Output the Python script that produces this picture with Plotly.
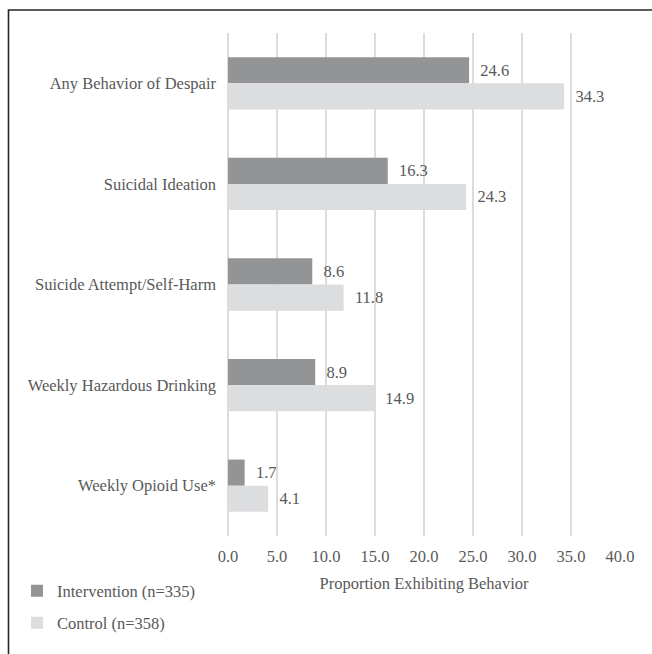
import plotly.graph_objects as go

categories = ["Any Behavior of Despair", "Suicidal Ideation", "Suicide Attempt/Self-Harm",
              "Weekly Hazardous Drinking", "Weekly Opioid Use*"]
intervention = [24.6, 16.3, 8.6, 8.9, 1.7]
control = [34.3, 24.3, 11.8, 14.9, 4.1]
series_names = ["Intervention (n=335)", "Control (n=358)"]
x_ticks = [0, 5, 10, 15, 20, 25, 30, 35, 40]

FONT = "Liberation Serif, Times New Roman, serif"
TXT = "#595959"
FS = 16.5

W, H = 652, 654
L, R, T, B = 228, 32, 33, 118
pw, ph = W - L - R, H - T - B

def px_x(p):
    return (p - L) / pw

def px_y(p):
    return (H - B - p) / ph

fig = go.Figure()
for name, vals, col, grp in [(series_names[0], intervention, "#939496", "a"),
                             (series_names[1], control, "#dcdddf", "b")]:
    fig.add_trace(go.Bar(
        y=categories, x=vals, orientation="h", name=name, legendgroup=grp,
        marker=dict(color=col, line=dict(width=0)),
        texttemplate="\u00a0\u00a0%{x:.1f}", textposition="outside",
        textfont=dict(family=FONT, size=FS, color=TXT),
        cliponaxis=False, hoverinfo="skip",
    ))

fig.update_layout(
    width=W, height=H,
    margin=dict(l=L, r=R, t=T, b=B, pad=0),
    paper_bgcolor="white", plot_bgcolor="white",
    barmode="group", bargap=0.48, bargroupgap=0,
    font=dict(family=FONT, size=FS, color=TXT),
    showlegend=True,
    legend=dict(x=px_x(17), xanchor="left", y=px_y(573.5), yanchor="top",
                font=dict(family=FONT, size=FS, color=TXT),
                tracegroupgap=7.5, bgcolor="rgba(0,0,0,0)", traceorder="grouped"),
    xaxis=dict(range=[0, 40], tickvals=x_ticks, tickformat=".1f",
               showgrid=True, gridcolor="#dcdcdc", gridwidth=1.5,
               zeroline=True, zerolinecolor="#dcdcdc", zerolinewidth=1.5,
               showline=False, ticks="", ticklabelstandoff=8,
               tickfont=dict(family=FONT, size=FS, color=TXT),
               title=dict(text="Proportion Exhibiting Behavior", standoff=12,
                          font=dict(family=FONT, size=FS, color=TXT)),
               fixedrange=True),
    yaxis=dict(categoryorder="array", categoryarray=categories, autorange="reversed",
               showgrid=False, zeroline=False, showline=False, ticks="",
               ticklabelstandoff=11,
               tickfont=dict(family=FONT, size=FS, color=TXT), fixedrange=True),
    shapes=[dict(type="rect", xref="paper", yref="paper",
                 x0=px_x(8.5), x1=px_x(700), y0=px_y(700), y1=px_y(10),
                 line=dict(color="#262626", width=1.6), fillcolor="rgba(0,0,0,0)",
                 layer="below")],
)

fig.write_html("out.html", config={"displayModeBar": False})
